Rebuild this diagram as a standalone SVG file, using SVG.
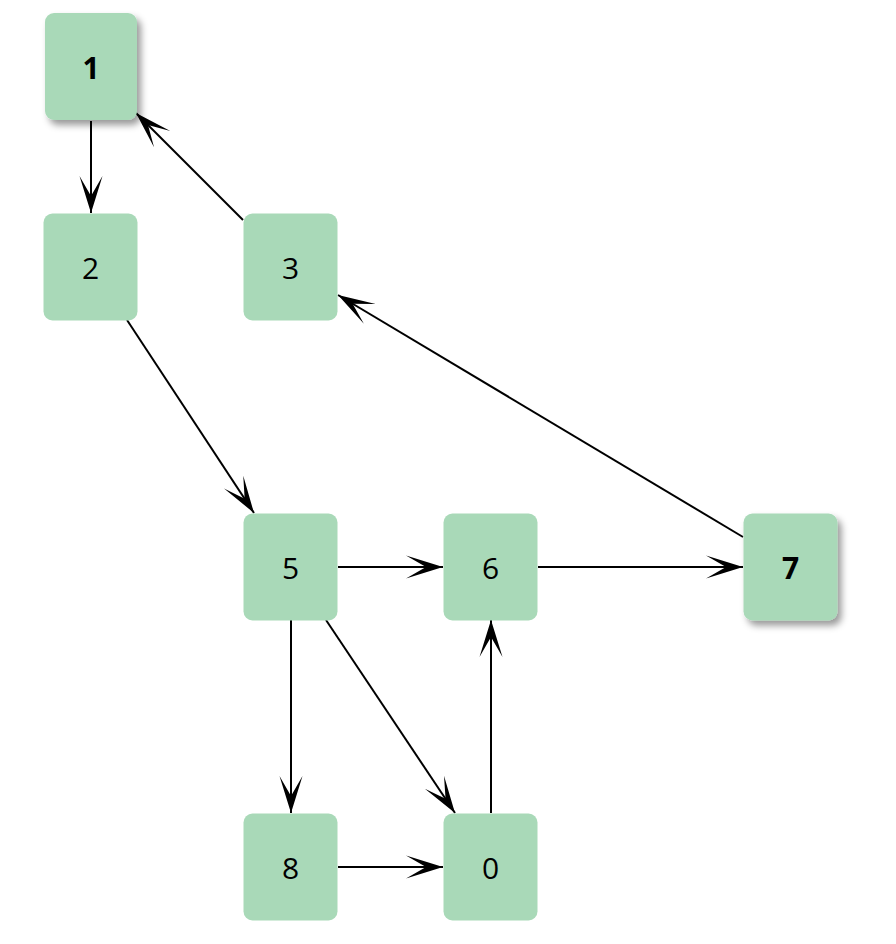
<svg xmlns="http://www.w3.org/2000/svg" width="896" height="944" viewBox="0 0 896 944">
<defs>
<style>
.node rect{fill:#a9d9b8}
.node text{font-family:"Open Sans","Noto Sans",sans-serif;font-size:30px;fill:#000;text-anchor:middle;dominant-baseline:central}
.node.bold text{font-weight:bold}
.edges line{stroke:#000;stroke-width:2;fill:none;marker-end:url(#arr)}
</style>
<marker id="arr" markerUnits="userSpaceOnUse" markerWidth="40" markerHeight="30" viewBox="-38 -13 40 26" refX="0" refY="0" orient="auto">
<path d="M0,0 L-37,-11.5 L-17,0 L-37,11.5 Z" fill="#000"/>
</marker>
<filter id="sh" x="-20%" y="-20%" width="150%" height="150%">
<feDropShadow dx="4" dy="5" stdDeviation="3.5" flood-color="#000" flood-opacity="0.4"/>
</filter>
</defs>
<rect width="896" height="944" fill="#fff"/>
<g class="edges">
<line x1="91" y1="121" x2="91" y2="213"/>
<line x1="243" y1="220" x2="136" y2="113"/>
<line x1="127" y1="320" x2="254" y2="513"/>
<line x1="743" y1="537" x2="338" y2="295"/>
<line x1="338" y1="567" x2="443" y2="567"/>
<line x1="538" y1="567" x2="743" y2="567"/>
<line x1="291" y1="620" x2="291" y2="813"/>
<line x1="326" y1="620" x2="455" y2="813"/>
<line x1="491" y1="813" x2="491" y2="620"/>
<line x1="338" y1="867" x2="443" y2="867"/>
</g>
<g id="node1" class="node bold"><rect x="45" y="13" width="92" height="107" rx="9" filter="url(#sh)"/><text x="91" y="67">1</text></g>
<g id="node2" class="node"><rect x="43.5" y="213.5" width="94" height="107" rx="9"/><text x="90.5" y="267">2</text></g>
<g id="node3" class="node"><rect x="243.5" y="213.5" width="94" height="107" rx="9"/><text x="290.5" y="267">3</text></g>
<g id="node5" class="node"><rect x="243.5" y="513.5" width="94" height="107" rx="9"/><text x="290.5" y="567">5</text></g>
<g id="node6" class="node"><rect x="443.5" y="513.5" width="94" height="107" rx="9"/><text x="490.5" y="567">6</text></g>
<g id="node7" class="node bold"><rect x="743.5" y="513.5" width="94" height="107" rx="9" filter="url(#sh)"/><text x="790.5" y="567">7</text></g>
<g id="node8" class="node"><rect x="243.5" y="813.5" width="94" height="107" rx="9"/><text x="290.5" y="867">8</text></g>
<g id="node0" class="node"><rect x="443.5" y="813.5" width="94" height="107" rx="9"/><text x="490.5" y="867">0</text></g>
</svg>
